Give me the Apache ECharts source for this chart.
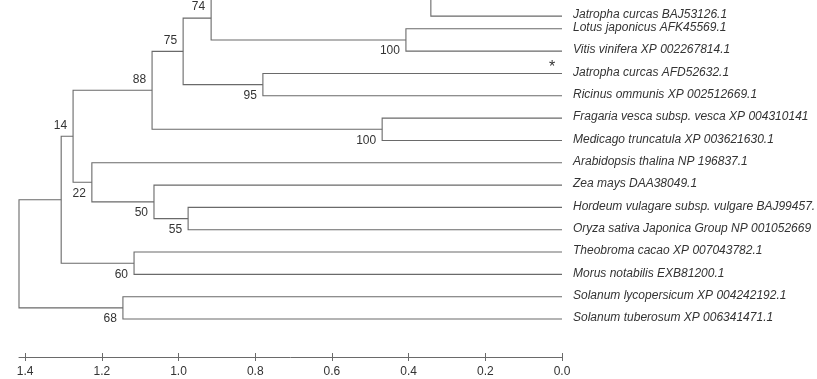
<!DOCTYPE html>
<html>
<head>
<meta charset="utf-8">
<script src="https://cdn.jsdelivr.net/npm/echarts@6/dist/echarts.min.js"></script>
<style>
  html, body { margin: 0; padding: 0; background: #fff; }
  #chart { width: 817px; height: 379px; }
</style>
</head>
<body>
<div id="chart"></div>
<script>
// Tips, top to bottom. The first tip lies above the top edge of the frame.
const taxa = [
  '',
  'Jatropha curcas BAJ53126.1',
  'Lotus japonicus AFK45569.1',
  'Vitis vinifera XP 002267814.1',
  'Jatropha curcas AFD52632.1',
  'Ricinus ommunis XP 002512669.1',
  'Fragaria vesca subsp. vesca XP 004310141',
  'Medicago truncatula XP 003621630.1',
  'Arabidopsis thalina NP 196837.1',
  'Zea mays DAA38049.1',
  'Hordeum vulagare subsp. vulgare BAJ99457.',
  'Oryza sativa Japonica Group NP 001052669',
  'Theobroma cacao XP 007043782.1',
  'Morus notabilis EXB81200.1',
  'Solanum lycopersicum XP 004242192.1',
  'Solanum tuberosum XP 006341471.1'
];
// Row of each tip on the vertical layout axis
const taxonRows = [-1.35, 0.43, 1, 2, 3, 4, 5, 6, 7, 8, 9, 10, 11, 12, 13, 14];

// Internal nodes (ids continue after the tips: 16, 17, ...), children as [upper, lower]
const nodeChildren = [
  [0, 1],    // 16
  [2, 3],    // 17
  [16, 17],  // 18
  [4, 5],    // 19
  [18, 19],  // 20
  [6, 7],    // 21
  [20, 21],  // 22
  [10, 11],  // 23
  [9, 23],   // 24
  [8, 24],   // 25
  [22, 25],  // 26
  [12, 13],  // 27
  [26, 27],  // 28
  [14, 15],  // 29
  [28, 29]   // 30 (root)
];
// Node heights measured back from the tips
const nodeDepths = [0.342, 0.407, 0.915, 0.780, 0.988, 0.469, 1.069, 0.975, 1.064, 1.226, 1.275, 1.116, 1.306, 1.145, 1.416];
// Bootstrap support
const nodeSupport = ['', '100', '74', '95', '75', '100', '88', '55', '50', '22', '14', '60', '', '68', ''];
// Sequence highlighted with an asterisk
const markedTaxa = ['Jatropha curcas AFD52632.1'];
// Scale bar ticks
const scaleTicks = [0, 0.2, 0.4, 0.6, 0.8, 1.0, 1.2, 1.4];

// ---- layout ----
const nTips = taxa.length;
const depth = [];
const row = [];
for (let i = 0; i < nTips; i++) { depth[i] = 0; row[i] = taxonRows[i]; }
nodeChildren.forEach((ch, k) => {
  const id = nTips + k;
  depth[id] = nodeDepths[k];
  row[id] = (row[ch[0]] + row[ch[1]]) / 2;
});
const rootDepth = Math.max(...nodeDepths);

// upper child of a node gets its support label above the branch
const isUpper = {};
nodeChildren.forEach(ch => { isUpper[ch[0]] = true; isUpper[ch[1]] = false; });

const LINE = '#6a6a6a';
const TEXT = '#333333';
const FONT = '"Liberation Sans", Arial, sans-serif';

const branchData = nodeChildren.map((ch, k) => [nodeDepths[k], row[nTips + k], k]);
const tipData = taxa.map((t, i) => [0, taxonRows[i], i]).filter(d => taxa[d[2]] !== '');

const gridBox = { left: 19, right: 255, top: 0, bottom: 22, outerBoundsMode: 'none' };

// scale bar: one axis carries the line, outer ticks and labels; the twin adds inner ticks
function scaleAxis(gridIndex, inside) {
  return {
    type: 'value', gridIndex: gridIndex, inverse: true, min: 0, max: rootDepth, interval: 0.2,
    position: 'bottom',
    axisLine: { show: !inside, onZero: false, lineStyle: { color: LINE, width: 1 } },
    axisTick: { show: true, inside: inside, length: 4, customValues: scaleTicks,
                lineStyle: { color: LINE, width: 1 } },
    axisLabel: { show: !inside, customValues: scaleTicks, margin: 9,
                 formatter: v => Number(v).toFixed(1),
                 color: TEXT, fontSize: 12, fontFamily: FONT },
    splitLine: { show: false }
  };
}

const chart = echarts.init(document.getElementById('chart'), null, { renderer: 'canvas' });

chart.setOption({
  animation: false,
  backgroundColor: '#ffffff',
  grid: [Object.assign({}, gridBox), Object.assign({}, gridBox)],
  xAxis: [scaleAxis(0, false), scaleAxis(1, true)],
  yAxis: [
    { type: 'value', gridIndex: 0, inverse: true, min: -0.29, max: 15.7, show: false },
    { type: 'value', gridIndex: 1, inverse: true, min: -0.29, max: 15.7, show: false }
  ],
  series: [
    {
      // branches and support values
      type: 'custom',
      clip: false,
      xAxisIndex: 0,
      yAxisIndex: 0,
      encode: { x: 0, y: 1 },
      data: branchData,
      renderItem: function (params, api) {
        const k = api.value(2);
        const id = nTips + k;
        const [a, b] = nodeChildren[k];
        const d = nodeDepths[k];
        const pA0 = api.coord([depth[a], row[a]]);
        const pA1 = api.coord([d, row[a]]);
        const pB1 = api.coord([d, row[b]]);
        const pB0 = api.coord([depth[b], row[b]]);
        const children = [{
          type: 'polyline',
          shape: { points: [pA0, pA1, pB1, pB0] },
          style: { stroke: LINE, lineWidth: 1.1, fill: null }
        }];
        if (nodeSupport[k]) {
          const c = api.coord([d, row[id]]);
          const up = isUpper[id] !== false;
          children.push({
            type: 'text',
            x: c[0] - 6,
            y: c[1] + (up ? -11 : 11),
            style: {
              text: nodeSupport[k], fill: TEXT, fontSize: 12, fontFamily: FONT,
              align: 'right', verticalAlign: 'middle'
            }
          });
        }
        return { type: 'group', children: children };
      }
    },
    {
      // tip names
      type: 'custom',
      clip: false,
      xAxisIndex: 0,
      yAxisIndex: 0,
      encode: { x: 0, y: 1 },
      data: tipData,
      renderItem: function (params, api) {
        const i = api.value(2);
        const p = api.coord([0, taxonRows[i]]);
        const children = [{
          type: 'text',
          x: p[0] + 11,
          y: p[1] - 1,
          style: {
            text: taxa[i], fill: TEXT, fontSize: 12, fontFamily: FONT,
            fontStyle: 'italic', align: 'left', verticalAlign: 'middle'
          }
        }];
        if (markedTaxa.indexOf(taxa[i]) >= 0) {
          children.push({
            type: 'text',
            x: p[0] - 10,
            y: p[1] - 6,
            style: {
              text: '*', fill: TEXT, fontSize: 16, fontFamily: FONT,
              align: 'center', verticalAlign: 'middle'
            }
          });
        }
        return { type: 'group', children: children };
      }
    }
  ]
});
</script>
</body>
</html>
